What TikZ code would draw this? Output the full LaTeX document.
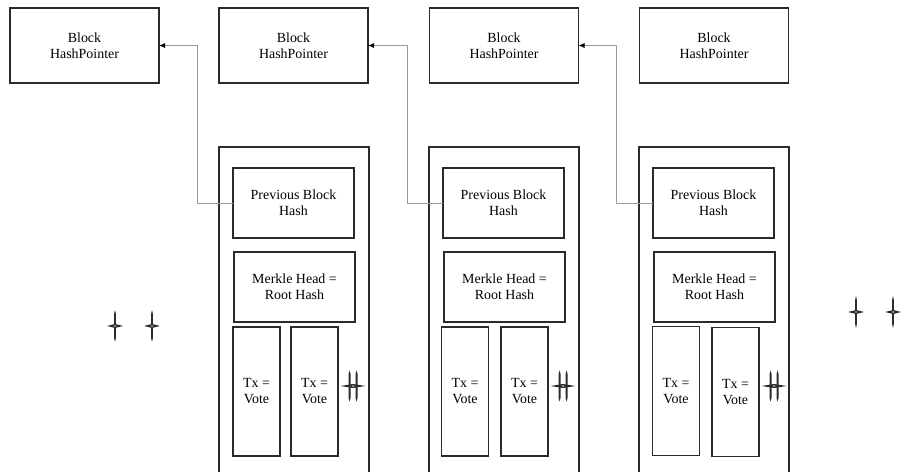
\documentclass[tikz,border=0pt]{standalone}
\usepackage{fontspec}
\setmainfont{Liberation Serif}
\usetikzlibrary{arrows.meta}
\definecolor{inkline}{HTML}{2B2B2B}
\definecolor{linkline}{HTML}{9A9A9A}
\begin{document}
\begin{tikzpicture}[x=1bp,y=-1bp,
  every node/.style={inner sep=0pt, outer sep=0pt, align=center,
    font=\fontsize{14}{16}\selectfont, text=black},
  box/.style={draw=inkline, line width=1.2bp, rectangle},
  blockbox/.style={box, minimum width=149bp, minimum height=75bp},
  chainbox/.style={box, minimum width=150bp, minimum height=345bp},
  fieldbox/.style={box, minimum width=121bp, minimum height=70bp},
  txbox/.style={box, minimum width=47bp, minimum height=129bp},
  link/.style={draw=linkline, line width=0.8bp, -{Latex[length=6bp,width=5bp,black]}},
  sparkle/.pic={
    \fill[inkline] (0,-16) -- (0.9,-12) -- (0.9,12) -- (0,16) -- (-0.9,12) -- (-0.9,-12) -- cycle;
    \fill[inkline] (-8,0) -- (0,-2) -- (8,0) -- (0,2) -- cycle;
    \fill[white] (0,0) ellipse (1.3bp and 0.6bp);
  },
  twinmark/.pic={
    \foreach \s in {-3.5,3.5} {
      \fill[inkline] (\s,-15.5) -- (\s+1,-12) -- (\s+1,12) -- (\s,15.5)
        -- (\s-1,12) -- (\s-1,-12) -- cycle;
    }
    \fill[inkline] (-12.5,0) -- (0,-2) -- (12.5,0) -- (0,2) -- cycle;
    \fill[white] (0,0) ellipse (1.5bp and 0.6bp);
  }]
\useasboundingbox (0,0) rectangle (914,472);
\clip (0,0) rectangle (914,472);

% chain of block hash pointers
\node[blockbox] (b1) at (84.5,45.5) {Block\\HashPointer};
\node[blockbox] (b2) at (293.5,45.5) {Block\\HashPointer};
\node[blockbox] (b3) at (504,45.5) {Block\\HashPointer};
\node[blockbox] (b4) at (714,45.5) {Block\\HashPointer};

% three blocks, each with header fields and two transactions
\foreach \i/\dx in {1/0, 2/210, 3/420} {
  \node[chainbox] (c\i) at (294+\dx,319.5) {};
  \node[fieldbox] (p\i) at (293.5+\dx,203) {Previous Block\\Hash};
  \node[fieldbox] (m\i) at (294.5+\dx,287) {Merkle Head =\\Root Hash};
}
\node[txbox] (t1a) at (256.5,391.5) {Tx =\\Vote};
\node[txbox] (t1b) at (314.5,391.5) {Tx =\\Vote};
\node[txbox] (t2a) at (465,391.5) {Tx =\\Vote};
\node[txbox] (t2b) at (524.5,391.5) {Tx =\\Vote};
\node[txbox] (t3a) at (676,391) {Tx =\\Vote};
\node[txbox] (t3b) at (735.5,392) {Tx =\\Vote};

% previous-hash links back to the preceding block
\draw[link] (p1.west) -- ++(-36,0) |- (b1.east);
\draw[link] (p2.west) -- ++(-36,0) |- (b2.east);
\draw[link] (p3.west) -- ++(-37,0) |- (b3.east);

% continuation marks
\pic at (115,326) {sparkle};
\pic at (152,326) {sparkle};
\pic at (856,312) {sparkle};
\pic at (893,312) {sparkle};
\pic at (353,386) {twinmark};
\pic at (563,386) {twinmark};
\pic at (774,386) {twinmark};
\end{tikzpicture}
\end{document}
